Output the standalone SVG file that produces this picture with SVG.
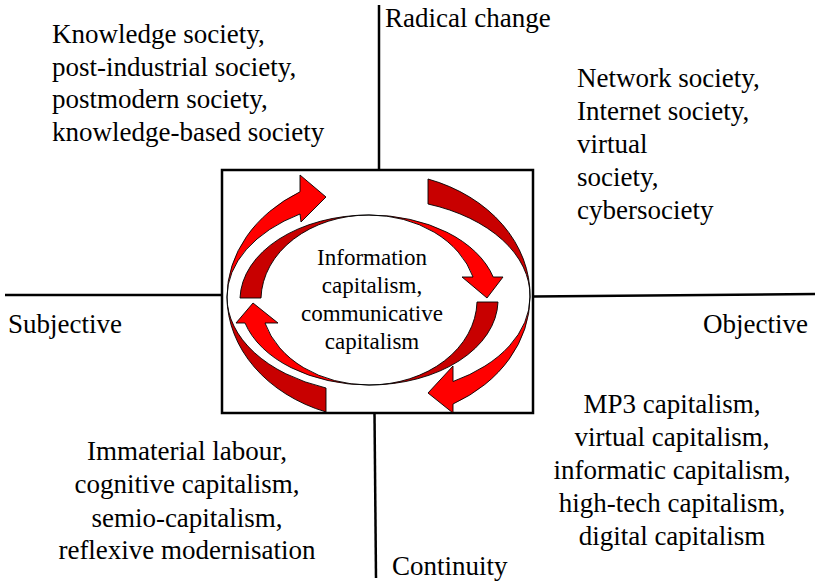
<svg xmlns="http://www.w3.org/2000/svg" width="815" height="583" viewBox="0 0 815 583">
<style>
.ln{stroke:#000;stroke-width:2.5;fill:none}
text{font-family:'Liberation Serif','Times New Roman',serif;fill:#000}
.t{font-size:27px}
.tc{font-size:23px;text-anchor:middle}
.m{text-anchor:middle}
.br{fill:#FF0000;stroke:#000;stroke-width:0.9;stroke-linejoin:miter}
.dk{fill:#C80000;stroke:#000;stroke-width:0.9;stroke-linejoin:miter}
</style>
<rect width="815" height="583" fill="#fff"/>
<g id="axes">
<line class="ln" x1="379" y1="5" x2="379" y2="170"/>
<line class="ln" x1="5" y1="295" x2="222" y2="295"/>
<line class="ln" x1="533" y1="296.5" x2="815" y2="294"/>
<line class="ln" x1="374.5" y1="413" x2="376" y2="578"/>
</g>
<g id="center">
<rect x="222" y="170" width="311" height="243" fill="#fff" stroke="#000" stroke-width="2.5"/>
<g id="arrows">
<path class="br" d="M227,297 A151.5,123 0 0 1 300,191.8 L300,175 L326,197 L301,222 L300,214 A151.5,97 0 0 0 227,297 Z"/>
<path class="dk" d="M428,179 A151.5,123 0 0 1 530,297 A151.5,97 0 0 0 428,204 Z"/>
<path class="br" d="M530,297 A151.5,123 0 0 1 453,404 L453,413 L428,393 L453,366 L453,381.5 A151.5,97 0 0 0 530,297 Z"/>
<path class="dk" d="M326,412 A151.5,123 0 0 1 227,297 A151.5,97 0 0 0 326,388 Z"/>
<path class="dk" d="M240,298 A129,85 0 0 1 369,215 A108,85 0 0 0 261,298 Z"/>
<path class="br" d="M369,215 A129,85 0 0 1 493.2,277 L503,277 L487,298 L462,277 L473,277 A108,85 0 0 0 369,215 Z"/>
<path class="dk" d="M498,302 A129,85 0 0 1 369,385 A108,85 0 0 0 477,302 Z"/>
<path class="br" d="M369,385 A129,85 0 0 1 245,323 L236,323 L253,303 L278,323 L265,323 A108,85 0 0 0 369,385 Z"/>
</g>
<text class="tc"><tspan x="372" y="265">Information</tspan><tspan x="372" y="293">capitalism,</tspan><tspan x="372" y="321">communicative</tspan><tspan x="372" y="348.5">capitalism</tspan></text>
</g>
<g id="radical"><text class="t" x="385" y="27">Radical change</text></g>
<g id="continuity"><text class="t" x="392" y="575">Continuity</text></g>
<g id="subjective"><text class="t" x="8" y="333">Subjective</text></g>
<g id="objective"><text class="t" x="808" y="333" text-anchor="end">Objective</text></g>
<g id="top-left"><text class="t"><tspan x="52" y="43">Knowledge society,</tspan><tspan x="52" y="75.5">post-industrial society,</tspan><tspan x="52" y="108">postmodern society,</tspan><tspan x="52" y="140.5">knowledge-based society</tspan></text></g>
<g id="top-right"><text class="t"><tspan x="577" y="87">Network society,</tspan><tspan x="577" y="120">Internet society,</tspan><tspan x="577" y="153">virtual</tspan><tspan x="577" y="186">society,</tspan><tspan x="577" y="219">cybersociety</tspan></text></g>
<g id="bottom-left"><text class="t m"><tspan x="187" y="460">Immaterial labour,</tspan><tspan x="187" y="493">cognitive capitalism,</tspan><tspan x="187" y="526.5">semio-capitalism,</tspan><tspan x="187" y="559">reflexive modernisation</tspan></text></g>
<g id="bottom-right"><text class="t m"><tspan x="672" y="413">MP3 capitalism,</tspan><tspan x="672" y="446">virtual capitalism,</tspan><tspan x="672" y="479">informatic capitalism,</tspan><tspan x="672" y="512">high-tech capitalism,</tspan><tspan x="672" y="545">digital capitalism</tspan></text></g>
</svg>
